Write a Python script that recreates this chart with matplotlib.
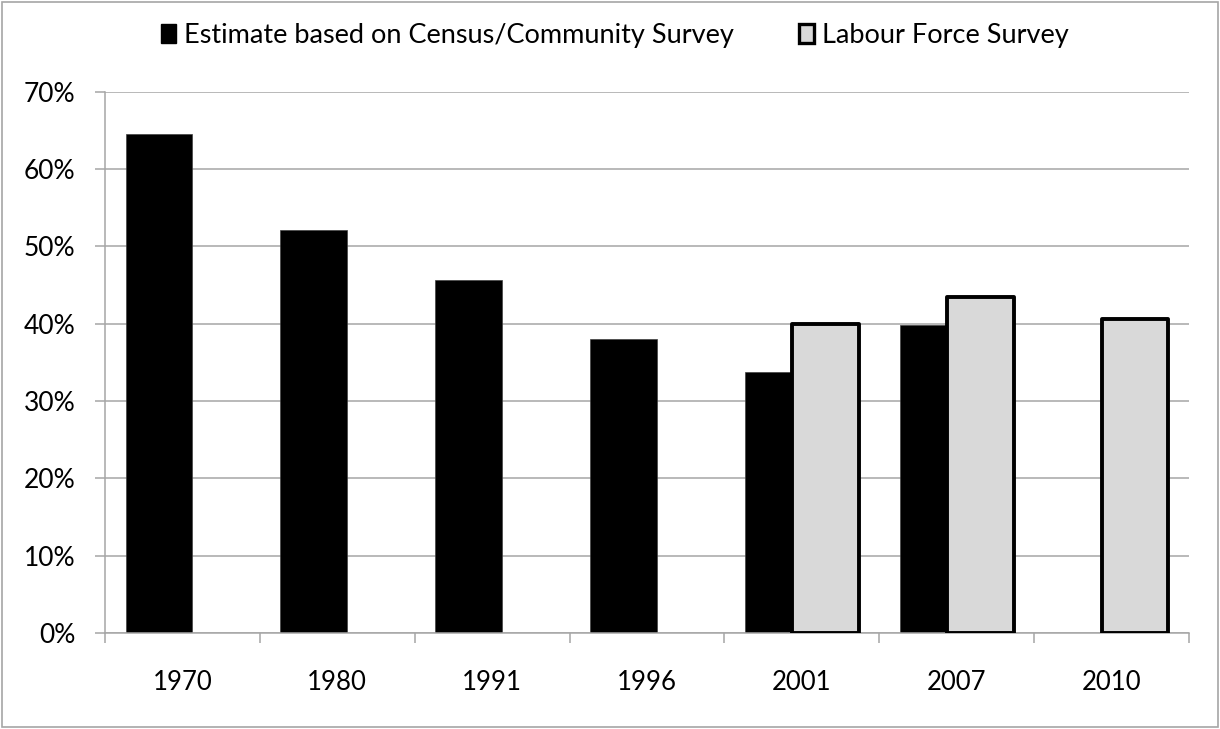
import matplotlib
matplotlib.use("Agg")
import matplotlib.pyplot as plt
from matplotlib.patches import Patch, Rectangle
import numpy as np

years = ["1970", "1980", "1991", "1996", "2001", "2007", "2010"]
census = [64.5, 52.1, 45.6, 38.0, 33.8, 39.8, np.nan]
lfs = [np.nan, np.nan, np.nan, np.nan, 40.0, 43.5, 40.6]
yticks = [0, 10, 20, 30, 40, 50, 60, 70]
series_names = ["Estimate based on Census/Community Survey", "Labour Force Survey"]

plt.rcParams['font.family'] = ['Lato', 'DejaVu Sans']

fig = plt.figure(figsize=(12.2, 7.29), dpi=100)
ax = fig.add_axes([105/1220, 1-633/729, (1189-105)/1220, (633-91.7)/729])

x = np.arange(len(years))
w = 0.43
off = 0.152
ax.bar(x - off, census, w, color='black', edgecolor='#404040', linewidth=0.5, zorder=2)
ax.bar(x + off, lfs, w, color='#D9D9D9', edgecolor='black', linewidth=2.8, zorder=3, joinstyle='round')

ax.set_xlim(-0.5, len(years) - 0.5)
ax.set_ylim(0, 70)
ax.set_yticks(yticks)
ax.set_yticklabels([f"{v}%" for v in yticks])
ax.set_xticks(x)
ax.set_xticklabels(years)
ax.set_xticks(np.arange(len(years) + 1) - 0.5, minor=True)

ax.grid(axis='y', color='#A6A6A6', linewidth=1.1, zorder=0)
ax.set_axisbelow(True)
for s in ['top', 'right']:
    ax.spines[s].set_visible(False)
for s in ['left', 'bottom']:
    ax.spines[s].set_color('#A6A6A6')
    ax.spines[s].set_linewidth(1.1)

ax.tick_params(axis='y', length=7.2, width=1.1, color='#A6A6A6', pad=14, labelsize=19)
ax.tick_params(axis='x', which='major', length=0, pad=27, labelsize=18.5)
ax.tick_params(axis='x', which='minor', length=7.2, width=1.1, color='#A6A6A6')

handles = [Patch(facecolor='black', edgecolor='black', linewidth=1),
           Patch(facecolor='#D9D9D9', edgecolor='black', linewidth=2.4)]
fig.legend(handles, series_names, loc='center', bbox_to_anchor=(0.504, 1-35/729), ncol=2,
           frameon=False, fontsize=19.5, handlelength=0.55, handleheight=0.7,
           handletextpad=0.3, columnspacing=2.4)

fig.patches.append(Rectangle((2/1220, 2/729), 1-4/1220, 1-4/729, transform=fig.transFigure,
                             fill=False, edgecolor='#A6A6A6', linewidth=1.2))

fig.savefig("out.png", dpi=100)
